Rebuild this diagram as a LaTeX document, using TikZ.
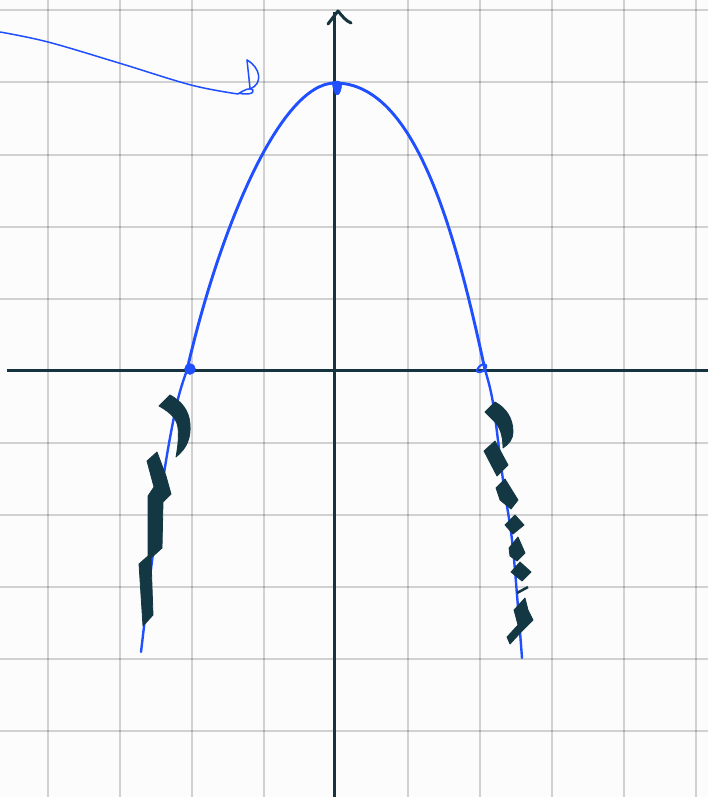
\documentclass[tikz,border=0pt]{standalone}
\usetikzlibrary{calc}
\definecolor{bgc}{RGB}{252,252,252}
\definecolor{axisc}{RGB}{22,52,64}
\definecolor{penblue}{RGB}{31,79,255}
\definecolor{inkc}{RGB}{20,55,68}
\tikzset{
  gridline/.style={draw=black, opacity=0.17, line width=2pt},
  axisline/.style={draw=axisc, line width=3pt},
  curve/.style={draw=penblue, line width=2.9pt, line cap=round, line join=round},
  thincurve/.style={draw=penblue, line width=1.5pt, line cap=round, line join=round},
  ink/.style={fill=inkc, draw=inkc, line width=0.8pt, line join=round},
  bluedot/.style={fill=penblue, draw=penblue}
}
\begin{document}
\begin{tikzpicture}[x=1pt,y=-1pt]
\fill[bgc] (0,0) rectangle (708,797);
\useasboundingbox (0,0) rectangle (708,797);
% grid
\foreach \gx in {47.5,119.5,191.5,263.5,407.5,479.5,551.5,623.5,695.5}
  \draw[gridline] (\gx,0) -- (\gx,797);
\foreach \gy in {10.5,82.5,154.5,226.5,298.5,442.5,514.5,586.5,658.5,730.5}
  \draw[gridline] (0,\gy) -- (708,\gy);
% axes
\coordinate (xl) at (7,370);
\coordinate (xr) at (708,370);
\coordinate (yb) at (334.5,797);
\coordinate (yt) at (334.5,12);
\draw[axisline] (xl) -- (xr);
\draw[axisline] (yb) -- (yt);
\draw[axisline, line cap=round, line join=round] (328,24) -- (338,11) .. controls (342,16) and (346,21) .. (351,23);
% parabola
\coordinate (zl) at (187,370);
\coordinate (vx) at (335,83);
\coordinate (zr) at (485,370);
\draw[curve] (zl) .. controls (219,230) and (280,83) .. (vx)
  .. controls (415,83) and (455,230) .. (zr);
\draw[curve, line width=2.4pt] plot[smooth, tension=0.6] coordinates {(187,370) (177,403) (165,467) (153,553) (141,652)};
\draw[curve, line width=2.4pt] plot[smooth, tension=0.6] coordinates {(485,370) (493,403) (503,480) (512,540) (518,607) (522,658)};
% points on curve
\fill[bluedot] (190,369) circle (5.5);
\fill[bluedot] (332,82) .. controls (336,80) and (341,81) .. (342,84) .. controls (341,90) and (340,95) .. (337,95) .. controls (334,94) and (333,88) .. (332,82) -- cycle;
\draw[thincurve, line width=2pt] (486,365) .. controls (484,363) and (479,365) .. (477,370) .. controls (476,373) and (481,373) .. (484,370) .. controls (486,368) and (487,366) .. (486,365);
% top-left stroke
\draw[thincurve] plot[smooth, tension=0.6] coordinates {(0,32) (48,42) (119,63) (191,85) (238,94)}
  .. controls (244,90) and (250,87) .. (253,90) .. controls (255,94) and (245,95) .. (239,93);
\draw[thincurve] (247,60) -- (250,88);
\draw[thincurve] (247,60) .. controls (261,68) and (263,84) .. (250,89);
% left ink strokes
\filldraw[ink] (159,406) -- (170,395) .. controls (181,401) and (189,410) .. (190,424)
  .. controls (191,438) and (187,448) .. (176,457) .. controls (178,446) and (179,436) .. (178,428)
  .. controls (177,420) and (173,414) .. (159,406) -- cycle;
\filldraw[ink] (147,461) -- (157,452) -- (166,476) -- (171,494) -- (163,502) -- (162,548)
  -- (151,558) -- (153,615) -- (143,626) -- (139,564) -- (148,556) -- (148,496) -- (154,487) -- cycle;
% right ink strokes
\filldraw[ink] (485,412) -- (495,402) .. controls (506,408) and (513,418) .. (513,432)
  .. controls (513,439) and (509,444) .. (503,448) .. controls (503,436) and (500,426) .. (493,420) -- cycle;
\filldraw[ink] (484,451) -- (495,441) -- (508,465) -- (497,476) -- cycle;
\filldraw[ink] (496,488) -- (505,479) -- (518,500) -- (511,509) -- (500,500) -- cycle;
\filldraw[ink] (505,525) -- (515,515) -- (524,525) -- (513,534) -- cycle;
\filldraw[ink] (509,548) -- (518,537) -- (525,553) -- (517,561) -- (510,556) -- cycle;
\filldraw[ink] (511,572) -- (520,562) -- (531,572) -- (522,581) -- cycle;
\draw[draw=inkc, line width=2.5pt] (517,593) -- (528,587);
\filldraw[ink] (514,610) -- (525,598) -- (528,610) -- (533,620) -- (522,631) -- (510,644) -- (507,637) -- (518,625) -- cycle;
\end{tikzpicture}
\end{document}
